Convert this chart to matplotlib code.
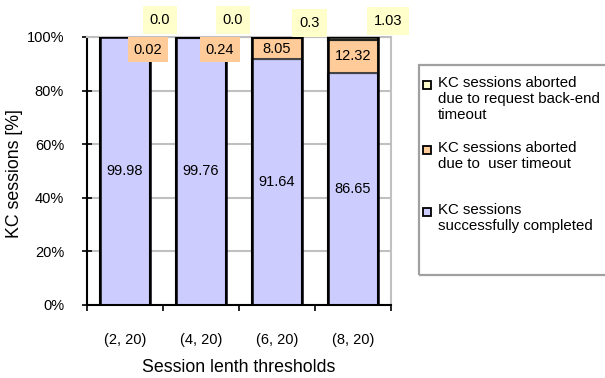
import matplotlib
matplotlib.use("Agg")
import matplotlib.pyplot as plt
from matplotlib.patches import Rectangle

plt.rcParams['font.family'] = ['Liberation Sans', 'DejaVu Sans']

categories = ["(2, 20)", "(4, 20)", "(6, 20)", "(8, 20)"]
completed = [99.98, 99.76, 91.64, 86.65]
user_timeout = [0.02, 0.24, 8.05, 12.32]
backend_timeout = [0.0, 0.0, 0.3, 1.03]
backend_text = ["0.0", "0.0", "0.3", "1.03"]
y_ticks = [0, 20, 40, 60, 80, 100]
legend_labels = [
    "KC sessions aborted\ndue to request back-end\ntimeout",
    "KC sessions aborted\ndue to  user timeout",
    "KC sessions\nsuccessfully completed",
]

c_done = "#CCCCFF"
c_user = "#FFCC99"
c_back = "#FFFFCC"

W, H = 605.0, 378.0
fig = plt.figure(figsize=(6.05, 3.78), dpi=100)
ax = fig.add_axes([87 / W, 73 / H, 304 / W, 268 / H])

x = list(range(len(categories)))
w = 0.66
ax.bar(x, completed, w, color=c_done, edgecolor="black", linewidth=1.5, zorder=3)
bot2 = completed
ax.bar(x, user_timeout, w, bottom=bot2, color=c_user, edgecolor="#444444",
       linewidth=1.5, zorder=3)
bot3 = [a + b for a, b in zip(completed, user_timeout)]
ax.bar(x, backend_timeout, w, bottom=bot3, color=c_back, edgecolor="#222222",
       linewidth=1.5, zorder=3)
# outline around each whole bar
ax.bar(x, [a + b for a, b in zip(bot3, backend_timeout)], w, fill=False,
       edgecolor="black", linewidth=1.8, zorder=4)

ax.set_xlim(-0.5, 3.5)
ax.set_ylim(0, 100)
ax.set_yticks(y_ticks)
ax.set_yticklabels([f"{t}%" for t in y_ticks])
ax.set_xticks([i + 0.5 for i in range(-1, len(categories))])
ax.set_xticklabels([""] * (len(categories) + 1))
ax.set_xticks(x, minor=True)
ax.set_xticklabels(categories, minor=True)
ax.tick_params(axis="x", which="minor", length=0, pad=20, labelsize=10.5)
ax.tick_params(axis="x", which="major", direction="out", length=4, width=1.2)
ax.tick_params(axis="y", direction="inout", length=7, width=1.2, pad=13,
               labelsize=10.5)

ax.yaxis.grid(True, color="#C0C0C0", linewidth=1.5, zorder=0)
ax.set_axisbelow(True)
for s in ("top", "right"):
    ax.spines[s].set_color("#C0C0C0")
    ax.spines[s].set_linewidth(1.5)
for s in ("left", "bottom"):
    ax.spines[s].set_color("black")
    ax.spines[s].set_linewidth(1.5)

ax.set_ylabel("KC sessions [%]", fontsize=12.75)
ax.yaxis.label.set_rotation_mode("default")
ax.yaxis.label.set_va("center")
ax.yaxis.label.set_ha("center")
ax.yaxis.set_label_coords(-0.237, 0.489)
ax.set_xlabel("Session lenth thresholds", fontsize=12.75)
ax.xaxis.label.set_va("center")
ax.xaxis.set_label_coords(0.5, -0.235)

fs = 10.5
# completed values, centred in the segment
for i, v in enumerate(completed):
    ax.text(i, v / 2, f"{v:.2f}", ha="center", va="center", fontsize=fs, zorder=5)

# user timeout values
user_pos = [(0.30, 95.3), (1.25, 95.3)]
for i, v in enumerate(user_timeout):
    if i < 2:
        px, py = user_pos[i]
        ax.text(px, py, f"{v:.2f}", ha="center", va="center", fontsize=fs, zorder=6,
                clip_on=False,
                bbox=dict(boxstyle="square,pad=0.38", fc=c_user, ec="none"))
    else:
        ax.text(i, completed[i] + v / 2, f"{v:.2f}", ha="center", va="center",
                fontsize=fs, zorder=6)

# back-end timeout values above the bars
back_pos = [(0.46, 106.3), (1.42, 106.3), (2.43, 105.4), (3.46, 106.0)]
for (px, py), t in zip(back_pos, backend_text):
    ax.text(px, py, t, ha="center", va="center", fontsize=fs, zorder=6,
            clip_on=False,
            bbox=dict(boxstyle="square,pad=0.48", fc=c_back, ec="none"))

# legend panel
fig.patches.append(Rectangle((419 / W, 1 - 275 / H), 200 / W, 210 / H,
                             transform=fig.transFigure, fill=False,
                             ec="#A0A0A0", lw=1.6))
entries = [(c_back, 85), (c_user, 150), (c_done, 212)]
for (col, yc), lab in zip(entries, legend_labels):
    fig.patches.append(Rectangle((423 / W, 1 - (yc + 4) / H), 8 / W, 8 / H,
                                 transform=fig.transFigure, fc=col, ec="black",
                                 lw=1.3))
    fig.text(438 / W, 1 - (yc - 9) / H, lab, ha="left", va="top", fontsize=10.8,
             linespacing=1.2)

fig.savefig("out.png", dpi=100)
